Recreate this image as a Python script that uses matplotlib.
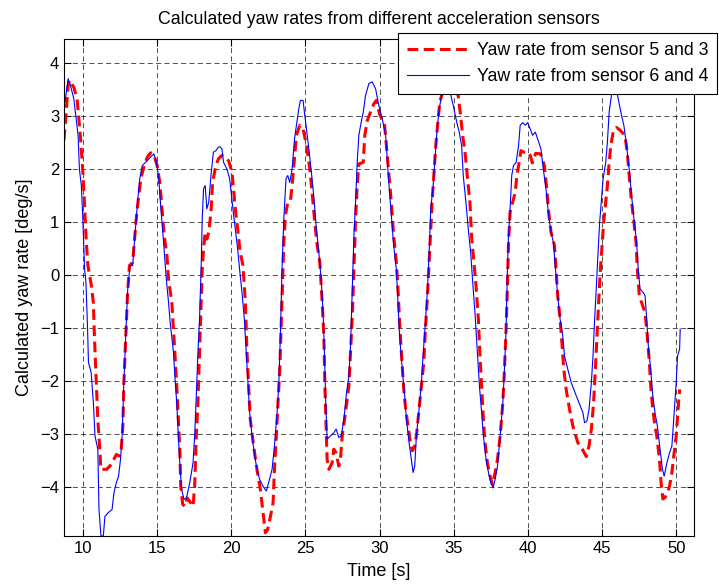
import matplotlib
matplotlib.use("Agg")
import matplotlib.pyplot as plt

plt.rcParams["font.family"] = ["Liberation Sans", "DejaVu Sans"]

# yaw rate from sensor 5 and 3 (red, dashed)
t_red = [8.72, 9.0, 9.1, 9.38, 9.6, 9.82, 9.98, 10.1, 10.2, 10.33, 10.55, 10.7,
         10.77, 10.86, 11.0, 11.15, 11.2, 11.6, 11.9, 12.25, 12.47, 12.58, 12.69,
         12.75, 12.84, 12.9, 13.0, 13.13, 13.35, 13.5, 13.63, 13.79, 13.9, 14.12,
         14.34, 14.56, 14.78, 15.0, 15.18, 15.33, 15.48, 15.66, 15.77, 15.99, 16.1,
         16.21, 16.32, 16.43, 16.54, 16.59, 16.72, 16.87, 17.03, 17.25, 17.42,
         17.53, 17.64, 17.75, 17.86, 17.97, 18.04, 18.13, 18.24, 18.35, 18.48,
         18.63, 18.74, 18.96, 19.14, 19.37, 19.82, 20.05, 20.27, 20.43, 20.6,
         20.79, 20.95, 21.06, 21.17, 21.28, 21.51, 21.73, 21.96, 22.14, 22.3,
         22.45, 22.64, 22.82, 22.91, 23.04, 23.15, 23.27, 23.36, 23.45, 23.54,
         23.65, 23.81, 23.99, 24.1, 24.26, 24.39, 24.62, 24.84, 25.07, 25.29,
         25.45, 25.61, 25.79, 25.97, 26.13, 26.24, 26.31, 26.4, 26.46, 26.58,
         26.8, 26.91, 27.07, 27.25, 27.36, 27.48, 27.7, 27.93, 28.04, 28.15,
         28.27, 28.38, 28.49, 28.6, 28.9, 29.0, 29.17, 29.39, 29.62, 29.78, 30.0,
         30.34, 30.56, 30.79, 30.95, 31.13, 31.24, 31.35, 31.51, 31.63, 31.76,
         31.92, 32.08, 32.21, 32.37, 32.48, 32.64, 32.82, 32.98, 33.09, 33.23,
         33.34, 33.43, 33.54, 33.66, 33.79, 33.95, 34.06, 34.18, 34.45, 34.7,
         35.0, 35.3, 35.46, 35.6, 35.76, 35.91, 36.09, 36.2, 36.36, 36.5, 36.66,
         36.77, 36.88, 37.0, 37.11, 37.27, 37.45, 37.61, 37.79, 37.95, 38.13,
         38.31, 38.42, 38.53, 38.62, 38.69, 38.8, 38.98, 39.14, 39.26, 39.41,
         39.53, 39.75, 39.98, 40.16, 40.3, 40.52, 40.86, 41.11, 41.27, 41.4,
         41.56, 41.79, 41.9, 42.01, 42.17, 42.31, 42.42, 42.58, 42.81, 43.03,
         43.37, 43.67, 43.94, 44.12, 44.28, 44.43, 44.55, 44.66, 44.77, 44.89,
         45.02, 45.11, 45.25, 45.36, 45.48, 45.59, 45.75, 45.97, 46.24, 46.54,
         46.7, 46.83, 46.99, 47.15, 47.29, 47.38, 47.51, 47.74, 47.9, 48.05,
         48.19, 48.28, 48.42, 48.57, 48.69, 48.87, 48.98, 49.1, 49.25, 49.41,
         49.55, 49.71, 49.86, 50.0, 50.11, 50.23]
v_red = [2.55, 3.58, 3.68, 3.55, 3.33, 2.64, 2.0, 1.37, 0.74, 0.18, -0.17, -0.52,
         -1.15, -1.78, -2.73, -3.36, -3.67, -3.67, -3.58, -3.39, -3.42, -3.29, -2.85,
         -2.09, -1.46, -1.02, -0.39, 0.18, 0.24, 0.74, 1.19, 1.56, 1.82, 2.07,
         2.23, 2.31, 2.27, 2.07, 1.75, 1.25, 0.74, 0.37, -0.08, -0.52, -1.02,
         -1.53, -2.09, -2.73, -3.36, -3.99, -4.33, -4.37, -4.21, -4.3, -4.37,
         -3.99, -3.04, -2.41, -1.46, -0.52, 0.11, 0.49, 0.81, 0.68, 0.81,
         1.19, 1.75, 2.07, 2.2, 2.26, 2.16, 1.94, 1.25, 0.87, 0.43,
         0.18, -0.52, -1.46, -2.09, -2.73, -3.23, -3.67, -4.05, -4.49, -4.87,
         -4.81, -4.56, -4.3, -3.67, -3.04, -2.41, -1.78, -1.02, -0.2, 0.62,
         1.12, 1.38, 1.41, 1.69, 2.2, 2.64, 2.83, 2.76, 2.45, 2.01,
         1.56, 1.06, 0.56, 0.24, -0.52, -1.15, -2.09, -2.91, -3.48, -3.67,
         -3.55, -3.29, -3.36, -3.61, -3.48, -3.04, -2.6, -2.09, -1.46, -0.83,
         0.11, 1.06, 1.69, 2.1, 2.13, 2.64, 2.92, 3.08, 3.24, 3.3, 3.04,
         2.83, 2.13, 1.38, 0.74, 0.24, -0.26, -0.9, -1.65, -2.16, -2.54,
         -2.85, -3.17, -3.32, -3.23, -3.04, -2.6, -2.09, -1.65, -1.02, -0.39,
         0.24, 0.74, 1.38, 1.88, 2.45, 2.95, 3.27, 3.39, 3.6, 3.68,
         3.6, 3.39, 3.02, 2.64, 2.32, 1.88, 1.38, 0.74, 0.24, -0.2, -0.83,
         -1.53, -2.09, -2.73, -3.17, -3.55, -3.8, -3.96, -3.73, -3.48, -3.04,
         -2.41, -1.78, -1.02, -0.2, 0.56, 1.19, 1.38, 1.56, 1.88, 2.13,
         2.35, 2.32, 2.33, 2.26, 2.12, 2.3, 2.29, 2.07, 1.63, 1.19,
         0.81, 0.56, 0.11, -0.39, -0.83, -1.34, -1.78, -2.16, -2.54, -2.85,
         -3.17, -3.29, -3.43, -3.23, -2.91, -2.41, -1.78, -1.15, -0.52, 0.11,
         0.62, 1.0, 1.38, 1.69, 2.13, 2.45, 2.7, 2.79, 2.73, 2.64,
         2.32, 1.88, 1.38, 1.0, 0.62, 0.11, -0.39, -0.58, -0.71, -1.15,
         -1.65, -2.09, -2.54, -2.85, -3.04, -3.48, -3.92, -4.23, -4.2, -4.11,
         -3.99, -3.73, -3.36, -3.04, -2.6, -2.16]

# yaw rate from sensor 6 and 4 (blue, solid)
t_blue = [8.72, 8.79, 9.0, 9.16, 9.38, 9.54, 9.67, 9.76, 9.89, 9.98, 10.11, 10.2,
          10.31, 10.37, 10.55, 10.7, 10.81, 11.0, 11.08, 11.21, 11.37, 11.48,
          11.7, 11.96, 12.09, 12.25, 12.4, 12.53, 12.64, 12.75, 12.9, 13.02,
          13.17, 13.35, 13.5, 13.68, 13.83, 14.0, 14.3, 14.56, 14.78, 14.96,
          15.11, 15.22, 15.4, 15.62, 15.77, 15.88, 16.1, 16.21, 16.32, 16.43,
          16.54, 16.65, 16.81, 16.98, 17.2, 17.42, 17.53, 17.64, 17.75, 17.86,
          17.97, 18.04, 18.13, 18.24, 18.35, 18.48, 18.63, 18.79, 18.96, 19.14,
          19.26, 19.37, 19.48, 19.71, 19.89, 20.11, 20.27, 20.43, 20.56, 20.72,
          20.88, 21.01, 21.13, 21.24, 21.4, 21.55, 21.73, 21.91, 22.14, 22.36,
          22.52, 22.75, 22.91, 23.09, 23.2, 23.31, 23.42, 23.54, 23.69, 23.81,
          23.94, 24.1, 24.26, 24.39, 24.55, 24.66, 24.84, 24.93, 25.07, 25.23,
          25.38, 25.56, 25.72, 25.9, 26.06, 26.19, 26.28, 26.37, 26.46, 26.69,
          26.91, 27.07, 27.25, 27.41, 27.59, 27.77, 27.93, 28.04, 28.15, 28.27,
          28.38, 28.49, 28.6, 28.76, 28.9, 29.05, 29.28, 29.5, 29.73, 29.95,
          30.18, 30.41, 30.56, 30.72, 30.95, 31.13, 31.24, 31.35, 31.53, 31.69,
          31.81, 31.99, 32.14, 32.26, 32.37, 32.48, 32.66, 32.82, 32.93, 33.09,
          33.23, 33.34, 33.45, 33.61, 33.75, 33.88, 34.02, 34.18, 34.45, 34.79,
          34.97, 35.2, 35.37, 35.53, 35.64, 35.82, 35.98, 36.14, 36.28, 36.43,
          36.59, 36.73, 36.88, 37.0, 37.18, 37.34, 37.5, 37.66, 37.79, 37.95,
          38.13, 38.31, 38.42, 38.53, 38.62, 38.69, 38.8, 38.91, 39.03, 39.21,
          39.37, 39.48, 39.66, 39.82, 39.98, 40.16, 40.32, 40.5, 40.66, 40.88,
          41.04, 41.22, 41.4, 41.56, 41.72, 41.86, 42.01, 42.17, 42.35, 42.47,
          42.69, 42.92, 43.26, 43.53, 43.71, 43.82, 43.98, 44.12, 44.28, 44.39,
          44.5, 44.62, 44.73, 44.84, 44.95, 45.07, 45.25, 45.36, 45.48, 45.63,
          45.85, 46.09, 46.31, 46.47, 46.65, 46.83, 46.99, 47.15, 47.33, 47.44,
          47.56, 47.78, 47.9, 48.01, 48.12, 48.28, 48.42, 48.57, 48.73, 48.91,
          49.07, 49.19, 49.37, 49.55, 49.71, 49.86, 50.0, 50.09, 50.23, 50.27]
v_blue = [3.37, 3.27, 3.71, 3.58, 3.33, 2.95, 2.64, 2.0, 1.69, 1.12, 0.11, -0.14,
          -1.02, -1.65, -1.84, -2.41, -3.04, -3.29, -4.43, -4.93, -4.93, -4.56,
          -4.49, -4.43, -4.11, -3.92, -3.8, -3.48, -3.04, -2.09, -1.02, -0.26,
          0.18, 0.18, 0.74, 1.38, 1.82, 2.07, 2.15, 2.23, 2.29, 2.13,
          1.82, 1.38, 0.74, -0.08, -0.52, -0.9, -1.46, -1.97, -2.41, -3.04,
          -3.61, -4.05, -4.24, -4.21, -3.92, -3.55, -3.04, -2.28, -1.46, -0.83,
          0.18, 1.06, 1.63, 1.69, 1.25, 1.38, 1.88, 2.32, 2.35, 2.42,
          2.42, 2.38, 2.13, 2.0, 1.82, 1.25, 0.87, 0.49, 0.11, -0.33,
          -0.83, -1.46, -2.03, -2.6, -3.04, -3.36, -3.67, -3.86, -3.99, -4.08,
          -3.92, -3.67, -3.23, -2.6, -2.09, -1.15, 0.11, 1.06, 1.82, 1.88,
          1.75, 2.0, 2.57, 2.83, 3.14, 3.3, 3.3, 3.08, 2.76, 2.38,
          2.0, 1.5, 0.93, 0.43, -0.08, -0.71, -1.46, -2.41, -3.1, -3.04,
          -2.98, -2.91, -3.07, -3.04, -2.73, -2.22, -1.91, -1.34, -0.33, 0.74,
          1.38, 2.13, 2.64, 2.89, 3.08, 3.39, 3.62, 3.65, 3.52, 3.2,
          2.95, 2.64, 2.0, 1.38, 0.56, 0.11, -0.52, -1.15, -1.78, -2.28,
          -2.73, -3.17, -3.48, -3.73, -3.61, -3.04, -2.54, -2.03, -1.53, -0.9,
          -0.26, 0.43, 1.25, 1.69, 2.26, 2.76, 3.14, 3.39, 3.75, 3.41,
          3.2, 2.89, 2.7, 2.45, 1.88, 1.38, 0.87, 0.43, -0.14, -0.71,
          -1.46, -2.09, -2.6, -3.04, -3.48, -3.73, -3.92, -4.02, -3.86, -3.61,
          -3.04, -2.41, -1.78, -1.02, 0.11, 0.74, 1.25, 1.88, 2.07, 2.13,
          2.45, 2.83, 2.88, 2.83, 2.88, 2.76, 2.64, 2.7, 2.57, 2.38,
          2.0, 1.63, 1.12, 0.81, 0.62, 0.11, -0.39, -0.83, -1.15, -1.53,
          -1.78, -2.03, -2.28, -2.47, -2.6, -2.79, -2.76, -2.54, -2.03, -1.53,
          -0.83, -0.2, 0.43, 1.0, 1.38, 1.82, 2.13, 2.51, 3.08, 3.39,
          3.65, 3.33, 3.02, 2.83, 2.45, 2.0, 1.5, 1.06, 0.62, 0.11,
          -0.26, -0.33, -0.39, -0.83, -1.34, -1.78, -2.28, -2.6, -2.85, -3.29,
          -3.67, -3.8, -3.55, -3.36, -3.23, -2.6, -2.03, -1.53, -1.4, -1.02]

x_ticks = [10, 15, 20, 25, 30, 35, 40, 45, 50]
y_ticks = [-4, -3, -2, -1, 0, 1, 2, 3, 4]

fig = plt.figure(figsize=(7.19, 5.88), dpi=100)
ax = fig.add_axes([64 / 719, 52 / 588, 630 / 719, 497 / 588])

ax.plot(t_red, v_red, color="#ff0000", lw=2.2, linestyle=(0, (3.5, 1.8)),
        label="Yaw rate from sensor 5 and 3")
ax.plot(t_blue, v_blue, color="#0000ff", lw=0.8,
        label="Yaw rate from sensor 6 and 4")

ax.set_xlim(8.72, 51.2)
ax.set_ylim(-4.93, 4.46)
ax.set_xticks(x_ticks)
ax.set_yticks(y_ticks)
ax.tick_params(direction="in", top=True, right=True, length=5, labelsize=12)
ax.grid(True, color="black", linestyle=(0, (6, 4)), lw=0.6, alpha=0.8)
for s in ax.spines.values():
    s.set_linewidth(0.8)

ax.set_title("Calculated yaw rates from different acceleration sensors",
             fontsize=12.8, pad=11)
ax.set_xlabel("Time [s]", fontsize=13, labelpad=5)
ax.set_ylabel("Calculated yaw rate [deg/s]", fontsize=13, labelpad=5)

# legend box runs past the right edge like the original, text kept inside
leg = ax.legend(loc="upper left", bbox_to_anchor=(0.530, 1.012),
                fontsize=12.8, handlelength=3.5, fancybox=False,
                framealpha=1, edgecolor="black", borderaxespad=0,
                borderpad=0.5, labelspacing=0.5, handletextpad=0.45)
leg.get_frame().set_linewidth(0.8)

plt.savefig("out.png", dpi=100)
